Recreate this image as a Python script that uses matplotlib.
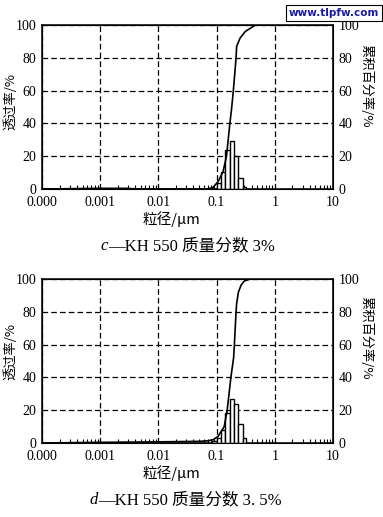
#KH 550 particle size distribution graphs


import matplotlib.pyplot as plt

serif = ['Liberation Serif', 'Noto Sans CJK SC']
cjk = ['Noto Sans CJK SC', 'DejaVu Sans']

bin_edges = [0.085, 0.1, 0.117, 0.138, 0.169, 0.202, 0.237, 0.279, 0.323]

c_bars = [0, 3.5, 10.5, 24, 29, 20, 7, 1]
c_size = [0.0001, 0.001, 0.003, 0.004, 0.07, 0.087, 0.106, 0.129, 0.148, 0.169,
          0.181, 0.194, 0.216, 0.221, 0.253, 0.31, 0.464, 10]
c_cum = [0, 0.4, 0.4, 0, 0, 1, 4.5, 10.5, 20, 40, 49, 60, 80, 87, 92, 96, 100, 100]

d_bars = [1, 3, 8, 18, 27, 24, 11.5, 3]
d_size = [0.0001, 0.001, 0.01, 0.05, 0.07, 0.087, 0.106, 0.135, 0.152, 0.176,
          0.196, 0.202, 0.216, 0.221, 0.237, 0.264, 0.3, 0.38, 10]
d_cum = [0, 0.4, 0.7, 1, 1.3, 2, 4, 10, 20, 40, 52, 60, 80, 85, 92, 96.3, 98.8, 100, 100]

x_ticks = [0.0001, 0.001, 0.01, 0.1, 1, 10]
x_labels = ['0.000', '0.001', '0.01', '0.1', '1', '10']
y_ticks = [0, 20, 40, 60, 80, 100]


def draw(ax, bars, size, cum):
    widths = [bin_edges[i + 1] - bin_edges[i] for i in range(len(bars))]
    ax.bar(bin_edges[:-1], bars, width=widths, align='edge',
           color='white', edgecolor='black', linewidth=1.0, zorder=3)
    ax.plot(size, cum, color='black', linewidth=1.2, zorder=4)
    ax.set_xscale('log')
    ax.set_xlim(0.0001, 10)
    ax.set_ylim(0, 100)
    ax.set_xticks(x_ticks)
    ax.set_xticklabels(x_labels, family=serif, fontsize=10)
    ax.set_yticks(y_ticks)
    ax.set_yticklabels([str(v) for v in y_ticks], family=serif, fontsize=10)
    ax.tick_params(axis='x', which='major', length=0, pad=5)
    ax.tick_params(axis='x', which='minor', direction='in', length=3, width=0.8)
    ax.tick_params(axis='y', length=0, pad=4)
    ax.grid(True, which='major', color='black', linestyle=(0, (4.5, 2.5)), linewidth=0.9)
    for s in ax.spines.values():
        s.set_linewidth(1.1)
    ax2 = ax.twinx()
    ax2.set_ylim(0, 100)
    ax2.set_yticks(y_ticks)
    ax2.set_yticklabels([str(v) for v in y_ticks], family=serif, fontsize=10)
    ax2.tick_params(axis='y', length=0, pad=4)


def main():
    fig = plt.figure(figsize=(3.83, 5.17), dpi=100)
    W, H = 383.0, 517.0

    ax_c = fig.add_axes([42 / W, 1 - 189 / H, 291 / W, 164 / H])
    draw(ax_c, c_bars, c_size, c_cum)
    ax_d = fig.add_axes([42 / W, 1 - 443 / H, 291 / W, 164 / H])
    draw(ax_d, d_bars, d_size, d_cum)

    # axis titles
    fig.text(171 / W, 1 - 219 / H, '粒径/μm', family=cjk, fontsize=10.5,
             ha='center', va='center')
    fig.text(171 / W, 1 - 473 / H, '粒径/μm', family=cjk, fontsize=10.5,
             ha='center', va='center')
    fig.text(11 / W, 1 - 102 / H, '透过率/%', family=cjk, fontsize=9.5,
             rotation=90, ha='center', va='center')
    fig.text(11 / W, 1 - 351 / H, '透过率/%', family=cjk, fontsize=9.5,
             rotation=90, ha='center', va='center')
    fig.text(366 / W, 1 - 86 / H, '累积百分率/%', family=cjk, fontsize=9.5,
             rotation=-90, ha='center', va='center')
    fig.text(366 / W, 1 - 338 / H, '累积百分率/%', family=cjk, fontsize=9.5,
             rotation=-90, ha='center', va='center')

    # captions
    fig.text(108 / W, 1 - 246 / H, 'c', family='Liberation Serif', style='italic',
             fontsize=12, ha='right', va='center')
    fig.text(108 / W, 1 - 246 / H, '—KH 550 质量分数 3%', family=serif,
             fontsize=12, ha='left', va='center')
    fig.text(98 / W, 1 - 500 / H, 'd', family='Liberation Serif', style='italic',
             fontsize=12, ha='right', va='center')
    fig.text(98 / W, 1 - 500 / H, '—KH 550 质量分数 3. 5%', family=serif,
             fontsize=12, ha='left', va='center')

    # watermark
    fig.text(334 / W, 1 - 13 / H, 'www.tlpfw.com', family='DejaVu Sans',
             weight='bold', color='#1a1aa8', fontsize=7.5, ha='center', va='center',
             bbox=dict(boxstyle='square,pad=0.3', facecolor='white',
                       edgecolor='black', linewidth=0.8))

    fig.savefig('out.png', dpi=100)


main()
